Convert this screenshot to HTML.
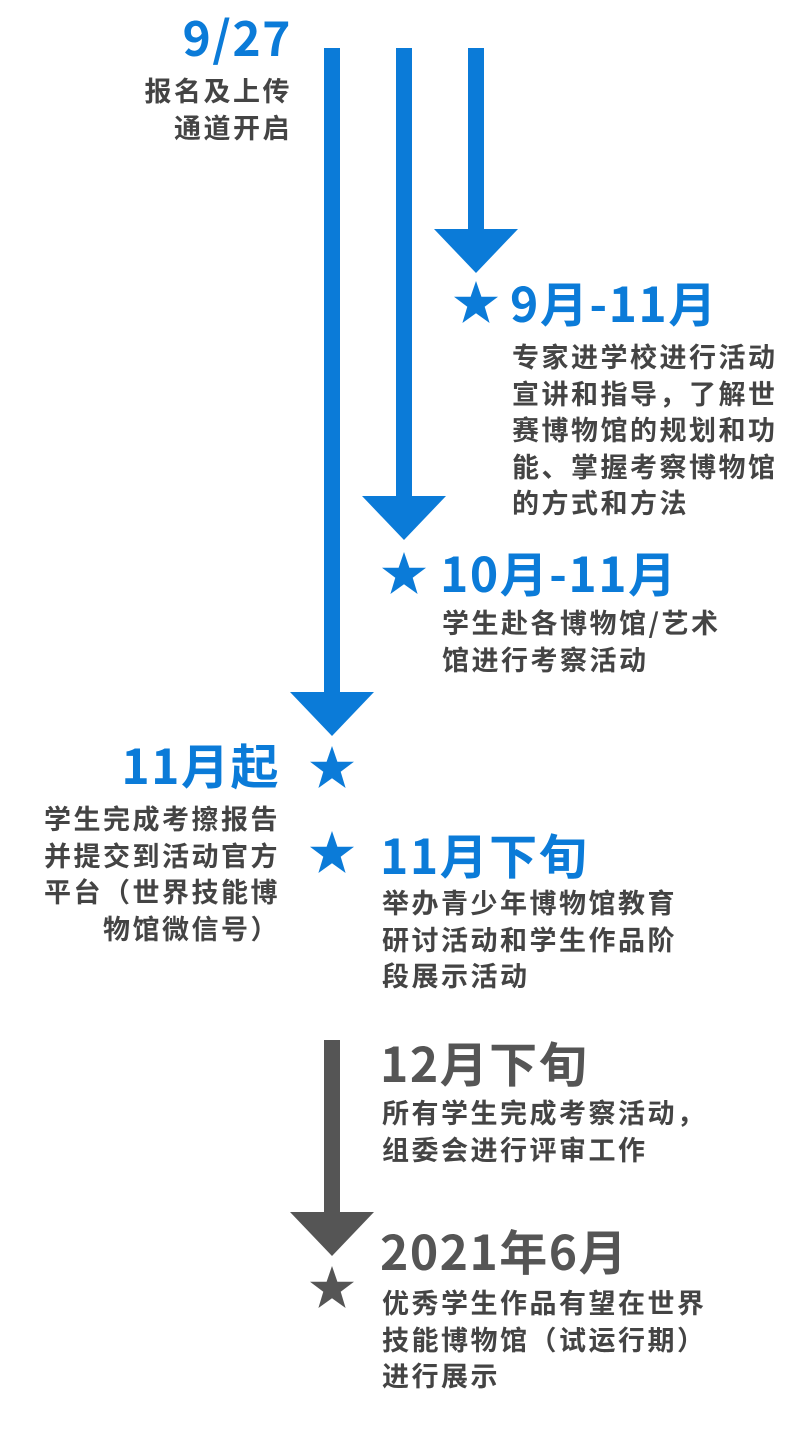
<!DOCTYPE html>
<html><head><meta charset="utf-8"><style>
body{margin:0;width:800px;height:1437px;background:#fff;position:relative;overflow:hidden;font-family:"Noto Sans CJK SC","Liberation Sans",sans-serif;}
.t{position:absolute;font-weight:bold;white-space:nowrap;}
.h{font-size:48px;color:#0b7bd8;line-height:50px;letter-spacing:1.5px;}
.g{color:#555;}
.b{font-size:27px;color:#444;line-height:36.5px;letter-spacing:2.5px;}
.r{text-align:right;}
</style></head><body>
<svg width="800" height="1437" style="position:absolute;left:0;top:0">
<defs><polygon id="s" points="0,-23 5.4,-7.3 22,-7.3 8.7,2.7 13.6,19 0,9.2 -13.6,19 -8.7,2.7 -22,-7.3 -5.4,-7.3"/></defs>
<g fill="#0b7bd8">
<rect x="324" y="48" width="16" height="645"/><polygon points="290,692 374,692 332,736"/>
<rect x="396" y="48" width="16" height="450"/><polygon points="362,496 446,496 404,540"/>
<rect x="468" y="48" width="16" height="183"/><polygon points="434,229 518,229 476,273"/>
<use href="#s" x="476" y="304"/><use href="#s" x="404" y="575"/><use href="#s" x="332" y="769"/><use href="#s" x="332" y="854"/>
</g>
<g fill="#555">
<rect x="324" y="1040" width="16" height="175"/><polygon points="290,1212 374,1212 332,1256"/>
<use href="#s" x="332" y="1289"/>
</g>
</svg>
<div class="t h r" style="right:508px;top:10px;">9/27</div>
<div class="t b g r" style="right:508px;top:72px;">报名及上传<br>通道开启</div>
<div class="t h" style="left:510px;top:276px;">9月-11月</div>
<div class="t b" style="left:512px;top:338px;">专家进学校进行活动<br>宣讲和指导，了解世<br>赛博物馆的规划和功<br>能、掌握考察博物馆<br>的方式和方法</div>
<div class="t h" style="left:440px;top:546px;">10月-11月</div>
<div class="t b" style="left:442px;top:604px;">学生赴各博物馆/艺术<br>馆进行考察活动</div>
<div class="t h r" style="right:520px;top:738px;">11月起</div>
<div class="t b r" style="right:520px;top:800px;">学生完成考擦报告<br>并提交到活动官方<br>平台（世界技能博<br>物馆微信号）</div>
<div class="t h" style="left:380px;top:828px;">11月下旬</div>
<div class="t b" style="left:382px;top:884px;">举办青少年博物馆教育<br>研讨活动和学生作品阶<br>段展示活动</div>
<div class="t h g" style="left:380px;top:1036px;">12月下旬</div>
<div class="t b" style="left:382px;top:1094px;">所有学生完成考察活动，<br>组委会进行评审工作</div>
<div class="t h g" style="left:380px;top:1224px;">2021年6月</div>
<div class="t b" style="left:382px;top:1284px;">优秀学生作品有望在世界<br>技能博物馆（试运行期）<br>进行展示</div>
</body></html>
